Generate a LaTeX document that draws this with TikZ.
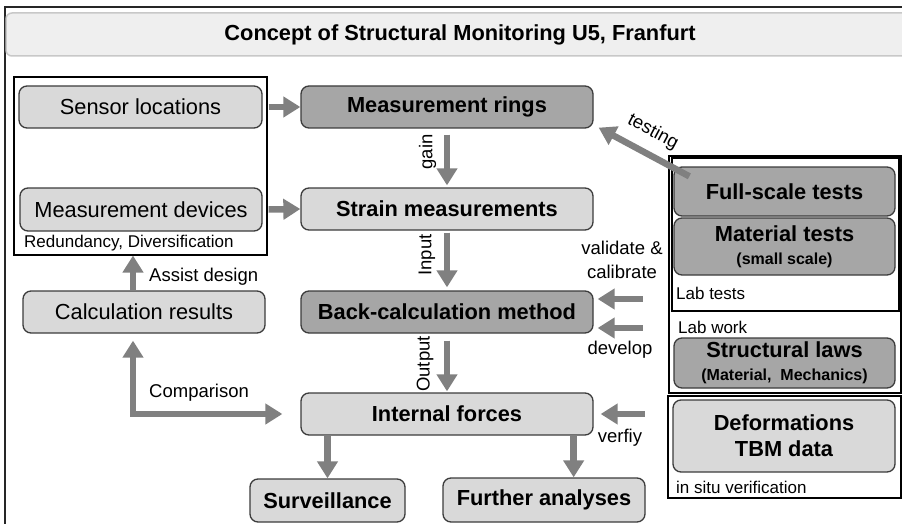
\documentclass[tikz,border=0pt]{standalone}
\usepackage{fontspec}
\setmainfont{Liberation Sans}
\usetikzlibrary{arrows.meta,calc}
\definecolor{lightbox}{HTML}{D9D9D9}
\definecolor{darkbox}{HTML}{A6A6A6}
\definecolor{arrowgray}{HTML}{808080}
\definecolor{boxline}{HTML}{3C3C3C}
\definecolor{titlefill}{HTML}{EFEFEF}
\definecolor{titleline}{HTML}{C8C8C8}
\tikzset{
  box/.style={draw=boxline, line width=1.3pt, rounded corners=8pt, inner sep=0pt,
    font=\fontsize{21.8}{26}\selectfont, align=center},
  lightb/.style={box, fill=lightbox},
  darkb/.style={box, fill=darkbox},
  grp/.style={draw=black, line width=1.1pt, inner sep=0pt},
  bigarrow/.style={draw=arrowgray, line width=6.5pt, -{Triangle[width=20pt,length=17pt]}},
  biarrow/.style={draw=arrowgray, line width=6.5pt, {Triangle[width=20pt,length=17pt]}-{Triangle[width=20pt,length=17pt]}},
  lbl/.style={inner sep=0pt, font=\fontsize{18.5}{24}\selectfont},
  glbl/.style={inner sep=0pt, anchor=west, font=\fontsize{17}{20}\selectfont},
}
\newcommand{\smallb}{\fontsize{16}{19}\selectfont}
\begin{document}
\begin{tikzpicture}[x=1pt,y=-1pt]
\useasboundingbox (0,0) rectangle (902,524);
\clip (0,0) rectangle (902,524);
\fill[white] (0,0) rectangle (902,524);
% outer frame
\draw[line width=2pt, draw=black!85] (5,7) rectangle (915,540);
% title
\draw[fill=titlefill, draw=titleline, line width=1.5pt, rounded corners=6pt] (6,13) rectangle (920,56);
\node[inner sep=0pt, font=\bfseries\fontsize{21.8}{26}\selectfont] (title) at (460,35) {Concept of Structural Monitoring U5, Franfurt};

% group frames
\node[grp, minimum width=253pt, minimum height=178pt] (leftgrp) at (140.5,166) {};
\node[grp, minimum width=232pt, minimum height=237pt] (labwork) at (785,274.5) {};
\node[grp, minimum width=227pt, minimum height=153pt] (labtests) at (785.5,234.5) {};
\node[grp, minimum width=233pt, minimum height=102pt] (insitu) at (784.5,447) {};

% left boxes
\node[lightb, minimum width=243pt, minimum height=42pt] (sensor) at (140.5,107) {Sensor locations};
\node[lightb, minimum width=242pt, minimum height=43pt] (devices) at (141,209.5) {Measurement devices};
\node[glbl] (redund) at (24,243) {Redundancy, Diversification};
\node[lightb, minimum width=242pt, minimum height=42pt] (calc) at (144,312) {Calculation results};

% central column
\node[darkb, minimum width=292pt, minimum height=42pt, font=\bfseries\fontsize{21.8}{26}\selectfont] (rings) at (447,107) {Measurement rings};
\node[lightb, minimum width=292pt, minimum height=42pt, font=\bfseries\fontsize{21.8}{26}\selectfont] (strain) at (447,209) {Strain measurements};
\node[darkb, minimum width=292pt, minimum height=42pt, font=\bfseries\fontsize{21.8}{26}\selectfont] (back) at (447,312) {Back-calculation method};
\node[lightb, minimum width=292pt, minimum height=42pt, font=\bfseries\fontsize{21.8}{26}\selectfont] (internal) at (447,414) {Internal forces};
\node[lightb, minimum width=155pt, minimum height=43pt, font=\bfseries\fontsize{21.8}{26}\selectfont] (surv) at (327.5,500.5) {Surveillance};
\node[lightb, minimum width=202pt, minimum height=44pt, font=\bfseries\fontsize{21.8}{26}\selectfont] (further) at (544,500) {Further analyses};

% right boxes
\node[darkb, minimum width=221pt, minimum height=49pt, font=\bfseries\fontsize{21.8}{26}\selectfont] (full) at (784.5,191.5) {Full-scale tests};
\node[darkb, minimum width=221pt, minimum height=57pt, font=\bfseries\fontsize{21.8}{24}\selectfont] (material) at (784.5,246.5) {Material tests\\[-1pt]{\smallb (small scale)}};
\node[glbl] (labtestslbl) at (676,293) {Lab tests};
\node[glbl] (labworklbl) at (678,327) {Lab work};
\node[darkb, minimum width=221pt, minimum height=50pt, font=\bfseries\fontsize{21.8}{23}\selectfont] (structural) at (784.5,363) {Structural laws\\{\smallb (Material,~ Mechanics)}};
\node[lightb, minimum width=222pt, minimum height=72pt, font=\bfseries\fontsize{21.8}{26}\selectfont] (deform) at (784,436) {Deformations\\TBM data};
\node[glbl] (insitulbl) at (676,487) {in situ verification};

% arrows
\draw[bigarrow] ([xshift=6pt]sensor.east) -- (rings.west);
\draw[bigarrow] ([xshift=6pt]devices.east) -- (strain.west);
\draw[bigarrow] ([yshift=-6pt]rings.south) -- ([yshift=2pt]strain.north);
\draw[bigarrow] ([yshift=-2pt]strain.south) -- ([yshift=3pt]back.north);
\draw[bigarrow] ([yshift=-7pt]back.south) -- ([yshift=1pt]internal.north);
\draw[bigarrow] (surv.north |- internal.south) -- (surv.north);
\coordinate (ffrom) at ([xshift=-20pt]internal.south east);
\draw[bigarrow] (ffrom) -- (ffrom |- further.north);
\coordinate (cup) at ([xshift=-11pt]calc.north);
\draw[bigarrow] (cup) -- (cup |- leftgrp.south);
\coordinate (clow) at ([xshift=-11pt,yshift=-7pt]calc.south);
\coordinate (cright) at ([xshift=-18pt]internal.west);
\draw[biarrow] (clow) |- (cright);

\coordinate (tstart) at ([shift={(16pt,-10pt)}]full.north west);
\coordinate (tend) at ([shift={(5pt,1pt)}]rings.south east);
\draw[bigarrow] (tstart) -- (tend);

\coordinate (vtip) at ([shift={(4pt,13pt)}]back.east);
\coordinate (dtip) at ([shift={(4pt,-16pt)}]back.east);
\draw[bigarrow] ($(vtip)+(45,0)$) -- (vtip);
\draw[bigarrow] ($(dtip)+(45,0)$) -- (dtip);
\coordinate (ytip) at ([xshift=7pt]internal.east);
\draw[bigarrow] ($(ytip)+(44,0)$) -- (ytip);

% labels
\node[lbl, rotate=90] (gain) at (427.5,152) {gain};
\node[lbl, rotate=90] (input) at (427,255) {Input};
\node[lbl, rotate=90] (output) at (425,364) {Output};
\node[lbl, anchor=west] (assist) at (149,277) {Assist design};
\node[lbl, anchor=west] (comp) at (149,393) {Comparison};
\node[lbl, align=center] (valid) at (622,260) {validate \&\\calibrate};
\node[lbl] (develop) at (620,350) {develop};
\node[lbl] (verfiy) at (620,438) {verfiy};
\node[lbl, rotate=-28] (testing) at (653,132) {testing};
\end{tikzpicture}
\end{document}
